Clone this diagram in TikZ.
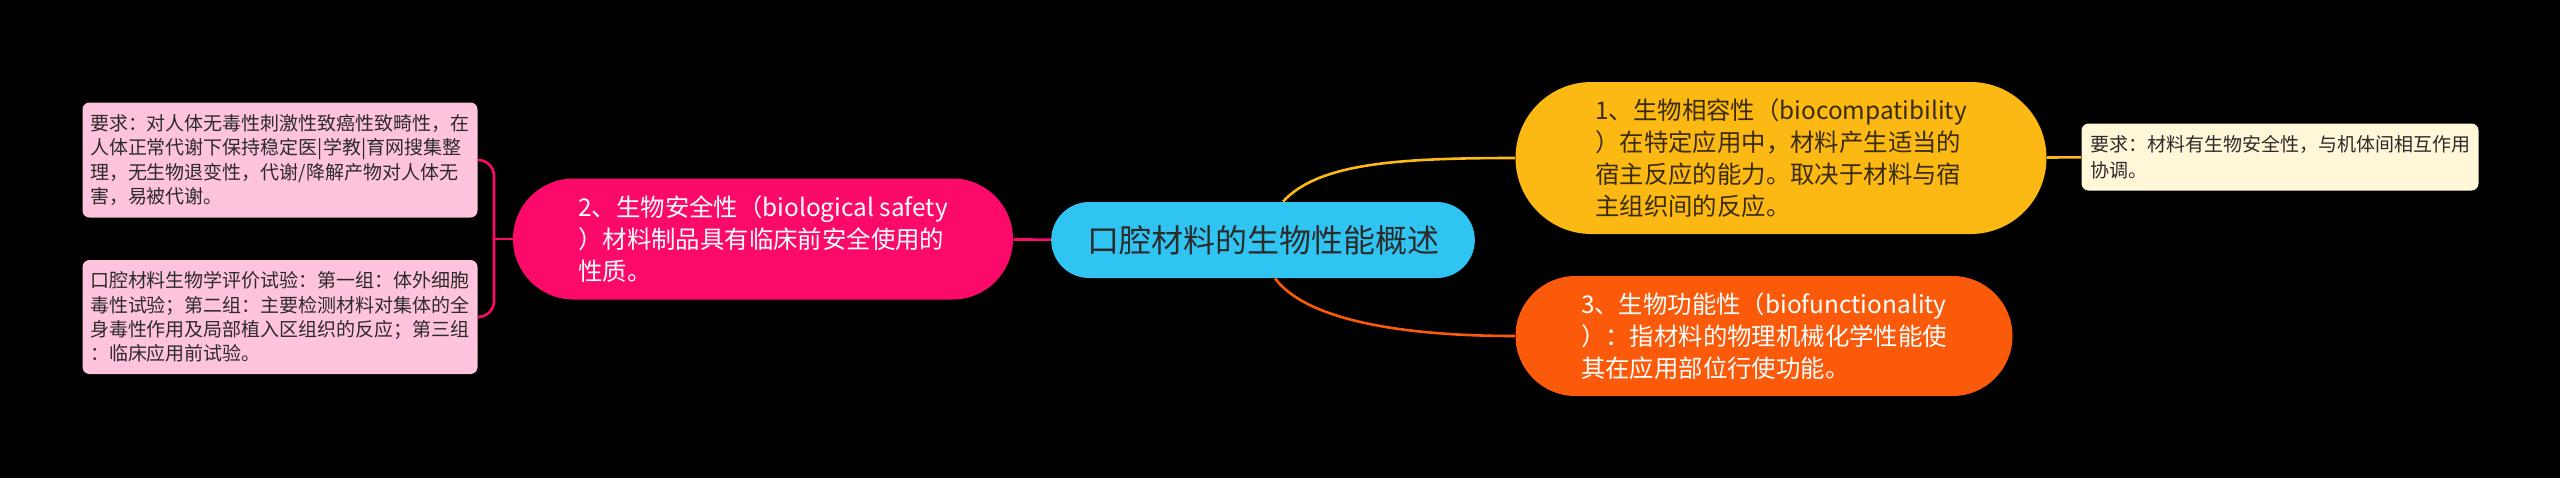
\documentclass[tikz,border=0pt]{standalone}
\usepackage{fontspec}
\setmainfont{Noto Sans CJK SC}
\usetikzlibrary{shapes.misc}
\definecolor{bgblack}{HTML}{000000}
\definecolor{rootcyan}{HTML}{30C4F2}
\definecolor{safepink}{HTML}{FC0A6A}
\definecolor{compyellow}{HTML}{FDB913}
\definecolor{funcorange}{HTML}{FA5A0A}
\definecolor{leafpink}{HTML}{FFC3DD}
\definecolor{leafcream}{HTML}{FFF7D8}
\definecolor{darktext}{HTML}{2B2B2B}
\definecolor{browntext}{HTML}{3A2C05}
\begin{document}
\begin{tikzpicture}[x=0.5pt,y=-0.5pt,
    pill/.style={rounded rectangle,align=left,inner sep=0pt,
      font=\fontsize{12.2}{16}\selectfont},
    leaf/.style={rectangle,rounded corners=3.5pt,align=left,inner sep=0pt,
      font=\fontsize{9.5}{12.2}\selectfont,text=darktext},
    link/.style={line width=1.3pt}]
      \fill[bgblack] (0,0) rectangle (2560,478);
      \useasboundingbox (0,0) rectangle (2560,478);
      % main topic and its three branches
      \node[rounded rectangle,fill=rootcyan,text=darktext,minimum width=218.5pt,
        minimum height=38pt,font=\fontsize{16}{20}\selectfont] (root) at (1263,240)
        {口腔材料的生物性能概述};
      \node[pill,fill=safepink,text=white,minimum width=250pt,minimum height=60.5pt]
        (safety) at (763,239)
        {2、生物安全性（biological safety\\）材料制品具有临床前安全使用的\\性质。};
      \node[pill,fill=compyellow,text=browntext,minimum width=265.5pt,minimum height=76pt]
        (compat) at (1781,158)
        {1、生物相容性（biocompatibility\\）在特定应用中，材料产生适当的\\宿主反应的能力。取决于材料与宿\\主组织间的反应。};
      \node[pill,fill=funcorange,text=white,minimum width=248.5pt,minimum height=60pt]
        (func) at (1764,336)
        {3、生物功能性（biofunctionality\\）：指材料的物理机械化学性能使\\其在应用部位行使功能。};
      % leaves
      \node[leaf,fill=leafcream,minimum width=198.5pt,minimum height=33.5pt,
        font=\fontsize{9.5}{12.8}\selectfont] (compreq) at (2280,157)
        {要求：材料有生物安全性，与机体间相互作用\\协调。};
      \node[leaf,fill=leafpink,minimum width=197.5pt,minimum height=57.5pt]
        (safereq) at (280,160)
        {要求：对人体无毒性刺激性致癌性致畸性，在\\人体正常代谢下保持稳定医|学教|育网搜集整\\理，无生物退变性，代谢/降解产物对人体无\\害，易被代谢。};
      \node[leaf,fill=leafpink,minimum width=197.5pt,minimum height=57pt]
        (safetest) at (280,317)
        {口腔材料生物学评价试验：第一组：体外细胞\\毒性试验；第二组：主要检测材料对集体的全\\身毒性作用及局部植入区组织的反应；第三组\\：临床应用前试验。};
      \coordinate (fork) at (494,239);
      \begin{scope}[link]
        \draw[safepink] (root) -- (safety);
        \draw[compyellow] ([xshift=10pt]root.north) .. controls +(35,-38) and +(-120,0) .. (compat.west);
        \draw[funcorange] ([xshift=6pt]root.south) .. controls +(30,40) and +(-120,0) .. (func.west);
        \draw[compyellow] (compat) -- (compreq);
        \draw[safepink] (safety.west) -- (fork);
        \draw[safepink,rounded corners=8pt] (safereq.east) -| (fork);
        \draw[safepink,rounded corners=8pt] (safetest.east) -| (fork);
      \end{scope}
    \end{tikzpicture}
\end{document}
